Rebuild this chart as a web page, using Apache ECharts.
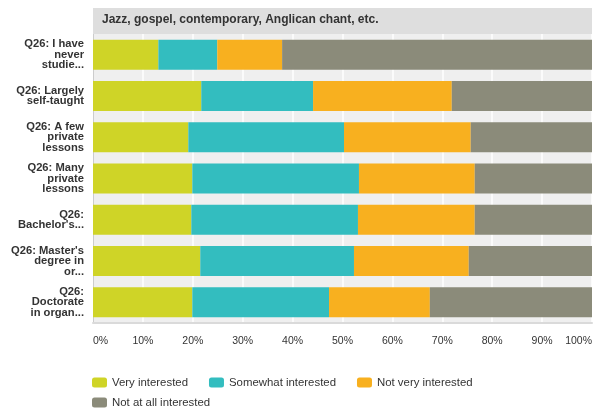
<!DOCTYPE html>
<html>
<head>
<meta charset="utf-8">
<script src="https://cdn.jsdelivr.net/npm/echarts@6/dist/echarts.min.js"></script>
<style>html,body{margin:0;padding:0;background:#fff;}#c{width:597px;height:409px;}</style>
</head>
<body>
<div id="c"></div>
<script>
const title = 'Jazz, gospel, contemporary, Anglican chant, etc.';
const categories = [
  'Q26: I have\nnever\nstudie...',
  'Q26: Largely\nself-taught',
  'Q26: A few\nprivate\nlessons',
  'Q26: Many\nprivate\nlessons',
  'Q26:\nBachelor\'s...',
  'Q26: Master\'s\ndegree in\nor...',
  'Q26:\nDoctorate\nin organ...'
];
const seriesNames = ['Very interested', 'Somewhat interested', 'Not very interested', 'Not at all interested'];
const veryInterested     = [13.1, 21.7, 19.1, 19.9, 19.7, 21.5, 19.9];
const somewhatInterested = [11.8, 22.4, 31.2, 33.4, 33.4, 30.8, 27.4];
const notVeryInterested  = [13.0, 27.8, 25.4, 23.2, 23.4, 23.0, 20.2];
const notAtAllInterested = [62.1, 28.1, 24.3, 23.5, 23.5, 24.7, 32.5];
const colors = ['#cfd427', '#33bdbf', '#f8b01f', '#8b8b7a'];
const xTicks = [0, 10, 20, 30, 40, 50, 60, 70, 80, 90, 100];

const values = [veryInterested, somewhatInterested, notVeryInterested, notAtAllInterested];
const font = '"Liberation Sans", Arial, sans-serif';

const chart = echarts.init(document.getElementById('c'), null, {renderer: 'canvas'});
chart.setOption({
  animation: false,
  color: colors,
  textStyle: {fontFamily: font},
  grid: {left: 93, right: 5, top: 34, bottom: 86, show: true, backgroundColor: '#efefef', borderWidth: 0, containLabel: false},
  graphic: [
    {type: 'rect', left: 93, top: 8, shape: {width: 499, height: 26}, style: {fill: '#dedede'}, z: 10},
    {type: 'text', left: 102, top: 14, style: {text: title, fill: '#333', font: 'bold 12px ' + font}, z: 11}
  ],
  xAxis: {
    type: 'value', min: xTicks[0], max: xTicks[xTicks.length - 1], interval: 10,
    axisLine: {show: true, lineStyle: {color: '#dadada', width: 2}},
    axisTick: {show: false},
    splitLine: {show: true, lineStyle: {color: '#ffffff', width: 1.5}},
    axisLabel: {formatter: '{value}%', color: '#333', fontSize: 10.5, margin: 13, fontFamily: font,
      alignMinLabel: 'left', alignMaxLabel: 'right'}
  },
  yAxis: {
    type: 'category', data: categories, inverse: true,
    axisLine: {show: true, lineStyle: {color: '#cccccc', width: 1}},
    axisTick: {show: false},
    axisLabel: {color: '#333', fontSize: 11.2, fontWeight: 'bold', lineHeight: 10.5, margin: 9, fontFamily: font}
  },
  legend: [
    {data: seriesNames.slice(0, 3), left: 92, top: 377, itemWidth: 15, itemHeight: 10, itemGap: 21, padding: 0,
      icon: 'roundRect', textStyle: {color: '#333', fontSize: 11.4, fontFamily: font}},
    {data: seriesNames.slice(3), left: 92, top: 397, itemWidth: 15, itemHeight: 10, itemGap: 21, padding: 0,
      icon: 'roundRect', textStyle: {color: '#333', fontSize: 11.4, fontFamily: font}}
  ],
  series: seriesNames.map((n, i) => ({
    name: n, type: 'bar', stack: 'total', data: values[i], barWidth: 30,
    itemStyle: {color: colors[i]}
  }))
});
</script>
</body>
</html>
